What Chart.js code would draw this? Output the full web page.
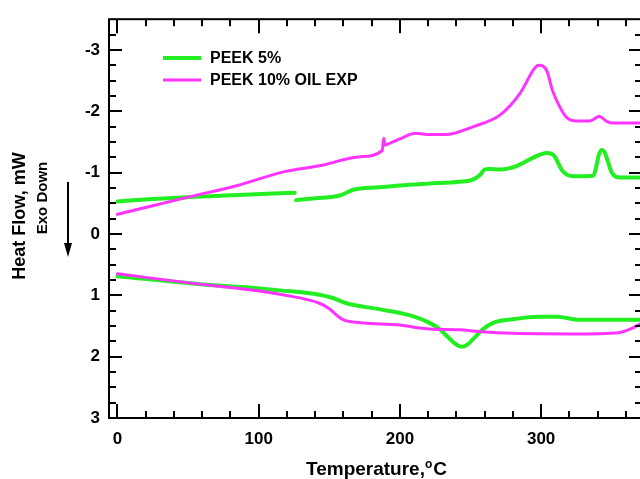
<!DOCTYPE html>
<html>
<head>
<meta charset="utf-8">
<script src="https://cdn.jsdelivr.net/npm/chart.js@4.4.1/dist/chart.umd.min.js"></script>
<style>
  html, body { margin: 0; padding: 0; background: #fff; }
  #wrap { width: 640px; height: 479px; }
</style>
</head>
<body>
<div id="wrap"><canvas id="dscChart" width="640" height="479"></canvas></div>
<script>
// temperatures (C) and heat flow (mW)
const greenHeatT = [0, 25, 50, 80, 110, 125.5, 126, 126.5, 140, 158, 167, 185, 200, 220, 242, 252, 257, 260, 263, 271, 283, 294, 304, 309, 315, 323, 337, 339, 341, 343, 345, 347, 350, 356, 370];
const greenHeatV = [-0.53, -0.57, -0.6, -0.63, -0.66, -0.67, null, -0.55, -0.58, -0.63, -0.72, -0.76, -0.79, -0.82, -0.85, -0.89, -0.97, -1.05, -1.06, -1.05, -1.11, -1.24, -1.32, -1.28, -1.03, -0.94, -0.95, -1.1, -1.3, -1.37, -1.33, -1.2, -1.0, -0.92, -0.92];

const greenCoolT = [0, 55, 90, 115, 143, 152, 162, 186, 209, 221, 228, 233, 241, 244, 248, 252, 259, 266, 280, 299, 311, 327, 370];
const greenCoolV = [0.69, 0.81, 0.87, 0.92, 0.99, 1.04, 1.13, 1.23, 1.34, 1.45, 1.55, 1.66, 1.82, 1.84, 1.8, 1.71, 1.55, 1.45, 1.39, 1.35, 1.35, 1.40, 1.40];

const pinkHeatT = [0, 25, 50, 85, 119, 143, 172, 187.5, 188.5, 189.5, 191, 200, 211, 221, 232, 252, 271, 285, 295, 298, 304, 308, 313, 318, 325, 334, 338, 341, 346, 350, 370];
const pinkHeatV = [-0.32, -0.46, -0.6, -0.79, -1.02, -1.11, -1.26, -1.36, -1.56, -1.45, -1.46, -1.55, -1.64, -1.62, -1.62, -1.75, -1.94, -2.29, -2.69, -2.75, -2.66, -2.34, -2.08, -1.9, -1.84, -1.84, -1.88, -1.92, -1.84, -1.81, -1.81];

const pinkCoolT = [0, 55, 90, 119, 143, 150, 156, 160, 174, 198, 221, 242, 256, 280, 322, 355, 365, 370];
const pinkCoolV = [0.65, 0.81, 0.9, 1.0, 1.13, 1.22, 1.34, 1.40, 1.45, 1.48, 1.55, 1.56, 1.59, 1.62, 1.63, 1.61, 1.53, 1.47];

const seriesNames = ['PEEK 5%', 'PEEK 10% OIL EXP'];
const xTicks = [0, 100, 200, 300];
const yTicks = [-3, -2, -1, 0, 1, 2, 3];

const GREEN = '#22ee22';
const PINK = '#ff33ff';
const FONT = "'Liberation Sans', Arial, sans-serif";

function toPoints(ts, vs) {
    return ts.map((t, i) => ({ x: t, y: vs[i] }));
}

// box, inward ticks, legend and axis titles
const frame = {
    id: 'frame',
    afterDatasetsDraw(chart) {
        const ctx = chart.ctx;
        const a = chart.chartArea;
        const x = chart.scales.x;
        const y = chart.scales.y;
        const right = a.right + 2; // right border sits just past the canvas edge
        ctx.save();
        ctx.strokeStyle = '#000';
        ctx.lineWidth = 2;
        ctx.strokeRect(a.left, a.top, right - a.left, a.bottom - a.top);

        ctx.beginPath();
        for (let t = 0; t <= 360; t += 20) {
            const px = Math.round(x.getPixelForValue(t));
            const len = t % 100 === 0 ? 14 : 7;
            ctx.moveTo(px, a.bottom); ctx.lineTo(px, a.bottom - len);
            ctx.moveTo(px, a.top); ctx.lineTo(px, a.top + len);
        }
        for (let i = -13; i <= 12; i++) {
            const v = i / 4;
            const py = Math.round(y.getPixelForValue(v));
            const len = i % 4 === 0 ? 13 : 7;
            ctx.moveTo(a.left, py); ctx.lineTo(a.left + len, py);
            ctx.moveTo(right, py); ctx.lineTo(right - len, py);
        }
        ctx.stroke();

        // legend
        const legendColors = [GREEN, PINK];
        const legendWidths = [4, 3];
        ctx.font = 'bold 16px ' + FONT;
        ctx.fillStyle = '#000';
        ctx.textBaseline = 'middle';
        ctx.textAlign = 'left';
        seriesNames.forEach((name, i) => {
            const ly = 58 + i * 22;
            ctx.strokeStyle = legendColors[i];
            ctx.lineWidth = legendWidths[i];
            ctx.beginPath();
            ctx.moveTo(163, ly); ctx.lineTo(201, ly);
            ctx.stroke();
            ctx.fillText(name, 210, ly + 1);
        });

        // y title
        ctx.save();
        ctx.translate(20, 216);
        ctx.rotate(-Math.PI / 2);
        ctx.textAlign = 'center';
        ctx.font = 'bold 18px ' + FONT;
        ctx.fillText('Heat Flow, mW', 0, 0);
        ctx.restore();

        ctx.save();
        ctx.translate(43, 198);
        ctx.rotate(-Math.PI / 2);
        ctx.textAlign = 'center';
        ctx.font = 'bold 15px ' + FONT;
        ctx.fillText('Exo Down', 0, 0);
        ctx.restore();

        ctx.strokeStyle = '#000';
        ctx.lineWidth = 2;
        ctx.beginPath();
        ctx.moveTo(68, 182); ctx.lineTo(68, 248);
        ctx.stroke();
        ctx.beginPath();
        ctx.moveTo(64, 243); ctx.lineTo(68, 257); ctx.lineTo(72, 243);
        ctx.closePath();
        ctx.fill();

        // x title with small raised degree mark
        ctx.font = 'bold 19px ' + FONT;
        ctx.textAlign = 'left';
        const part1 = 'Temperature,';
        const w1 = ctx.measureText(part1).width;
        ctx.font = 'bold 12px ' + FONT;
        const w2 = ctx.measureText('o').width;
        ctx.font = 'bold 19px ' + FONT;
        const w3 = ctx.measureText('C').width;
        let sx = 376 - (w1 + w2 + w3) / 2;
        ctx.fillText(part1, sx, 470);
        ctx.font = 'bold 12px ' + FONT;
        ctx.fillText('o', sx + w1, 465);
        ctx.font = 'bold 19px ' + FONT;
        ctx.fillText('C', sx + w1 + w2 + 1, 470);
        ctx.restore();
    }
};

document.addEventListener('DOMContentLoaded', function () {
    const ctx = document.getElementById('dscChart').getContext('2d');
    new Chart(ctx, {
        type: 'line',
        data: {
            datasets: [
                { label: seriesNames[0], data: toPoints(greenHeatT, greenHeatV), borderColor: GREEN, borderWidth: 4, order: 1 },
                { label: seriesNames[0], data: toPoints(greenCoolT, greenCoolV), borderColor: GREEN, borderWidth: 4, order: 1 },
                { label: seriesNames[1], data: toPoints(pinkHeatT, pinkHeatV), borderColor: PINK, borderWidth: 3, order: 0 },
                { label: seriesNames[1], data: toPoints(pinkCoolT, pinkCoolV), borderColor: PINK, borderWidth: 3, order: 0 }
            ]
        },
        options: {
            responsive: false,
            animation: false,
            spanGaps: false,
            layout: { padding: { top: 15, right: 0, left: 0, bottom: 0 } },
            elements: {
                point: { radius: 0 },
                line: { cubicInterpolationMode: 'monotone', borderCapStyle: 'round', borderJoinStyle: 'round' }
            },
            plugins: {
                legend: { display: false },
                tooltip: { enabled: false }
            },
            scales: {
                x: {
                    type: 'linear',
                    min: -6,
                    max: 370,
                    grid: { display: false, drawTicks: false },
                    border: { display: false },
                    afterBuildTicks: function (scale) {
                        scale.ticks = xTicks.map(v => ({ value: v }));
                    },
                    afterFit: function (scale) { scale.height = 61; },
                    ticks: {
                        color: '#000',
                        padding: 11,
                        maxRotation: 0,
                        font: { family: FONT, size: 17, weight: 'bold' }
                    }
                },
                y: {
                    type: 'linear',
                    reverse: true,
                    min: -3.5,
                    max: 3,
                    grid: { display: false, drawTicks: false },
                    border: { display: false },
                    afterBuildTicks: function (scale) {
                        scale.ticks = yTicks.map(v => ({ value: v }));
                    },
                    afterFit: function (scale) { scale.width = 109; },
                    ticks: {
                        color: '#000',
                        padding: 9,
                        font: { family: FONT, size: 17, weight: 'bold' }
                    }
                }
            }
        },
        plugins: [frame]
    });
});
</script>
</body>
</html>
